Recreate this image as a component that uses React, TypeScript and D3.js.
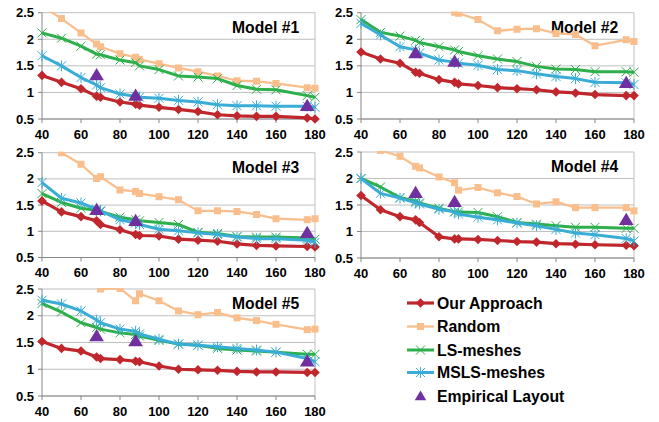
import React from "react";
import * as d3 from "d3";

const xs = [40, 50, 60, 68, 70, 80, 88, 90, 100, 110, 120, 130, 140, 150, 160, 176, 180];
const empX = [68, 88, 176];
const xTicks = [40, 60, 80, 100, 120, 140, 160, 180];
const yTicks = [0.5, 1, 1.5, 2, 2.5];
const yTickLabels = ["0.5", "1", "1.5", "2", "2.5"];
const modelNames = ["Model #1", "Model #2", "Model #3", "Model #4", "Model #5"];
const seriesNames = ["Our Approach", "Random", "LS-meshes", "MSLS-meshes", "Empirical Layout"];

// Model #1
const ours1 = [1.32, 1.19, 1.07, 0.93, 0.91, 0.82, 0.78, 0.76, 0.72, 0.68, 0.64, 0.58, 0.56, 0.55, 0.55, 0.52, 0.5];
const rand1 = [2.62, 2.39, 2.12, 1.91, 1.86, 1.73, 1.66, 1.62, 1.54, 1.46, 1.39, 1.31, 1.22, 1.21, 1.17, 1.09, 1.08];
const ls1 = [2.12, 2.02, 1.87, 1.72, 1.71, 1.61, 1.56, 1.5, 1.43, 1.31, 1.29, 1.26, 1.13, 1.06, 1.05, 0.94, 0.91];
const msls1 = [1.69, 1.5, 1.28, 1.14, 1.09, 0.97, 0.93, 0.91, 0.89, 0.85, 0.82, 0.77, 0.75, 0.75, 0.74, 0.74, 0.72];
const emp1 = [1.33, 0.94, 0.75];

// Model #2
const ours2 = [1.76, 1.63, 1.55, 1.38, 1.36, 1.24, 1.19, 1.16, 1.13, 1.09, 1.07, 1.05, 1.01, 0.99, 0.96, 0.94, 0.94];
const rand2 = [3.2, 3.05, 2.9, 2.8, 2.75, 2.65, 2.51, 2.49, 2.37, 2.16, 2.19, 2.2, 2.11, 2.09, 1.88, 1.99, 1.96];
const ls2 = [2.37, 2.13, 2.06, 1.98, 1.94, 1.86, 1.8, 1.77, 1.69, 1.63, 1.58, 1.49, 1.44, 1.43, 1.39, 1.39, 1.38];
const msls2 = [2.3, 2.08, 1.86, 1.8, 1.74, 1.61, 1.57, 1.55, 1.51, 1.43, 1.41, 1.35, 1.3, 1.26, 1.19, 1.18, 1.15];
const emp2 = [1.74, 1.58, 1.18];

// Model #3
const ours3 = [1.58, 1.37, 1.28, 1.2, 1.13, 1.03, 0.94, 0.92, 0.91, 0.85, 0.83, 0.81, 0.76, 0.73, 0.72, 0.71, 0.7];
const rand3 = [2.9, 2.5, 2.28, 2.01, 2.04, 1.79, 1.76, 1.72, 1.66, 1.6, 1.39, 1.39, 1.38, 1.32, 1.24, 1.22, 1.24];
const ls3 = [1.72, 1.55, 1.44, 1.4, 1.38, 1.27, 1.22, 1.2, 1.17, 1.13, 0.98, 0.96, 0.9, 0.89, 0.89, 0.87, 0.85];
const msls3 = [1.93, 1.63, 1.54, 1.42, 1.39, 1.22, 1.16, 1.13, 1.04, 1.01, 0.97, 0.94, 0.89, 0.86, 0.86, 0.83, 0.79];
const emp3 = [1.41, 1.2, 0.97];

// Model #4
const ours4 = [1.68, 1.41, 1.28, 1.22, 1.17, 0.9, 0.86, 0.86, 0.85, 0.83, 0.81, 0.8, 0.77, 0.76, 0.75, 0.74, 0.73];
const rand4 = [2.75, 2.53, 2.42, 2.23, 2.2, 2.03, 1.92, 1.78, 1.83, 1.73, 1.66, 1.52, 1.56, 1.45, 1.45, 1.45, 1.39];
const ls4 = [2.0, 1.84, 1.64, 1.57, 1.54, 1.44, 1.37, 1.37, 1.36, 1.28, 1.17, 1.14, 1.11, 1.08, 1.08, 1.06, 1.06];
const msls4 = [2.0, 1.72, 1.63, 1.54, 1.52, 1.42, 1.37, 1.33, 1.27, 1.22, 1.16, 1.11, 1.04, 0.97, 0.94, 0.87, 0.82];
const emp4 = [1.73, 1.56, 1.22];

// Model #5
const ours5 = [1.52, 1.39, 1.34, 1.23, 1.2, 1.18, 1.15, 1.14, 1.06, 1.0, 0.99, 0.98, 0.96, 0.95, 0.95, 0.94, 0.94];
const rand5 = [3.3, 3.1, 2.9, 2.7, 2.5, 2.51, 2.28, 2.41, 2.28, 2.09, 2.02, 2.06, 1.96, 1.91, 1.84, 1.74, 1.75];
const ls5 = [2.23, 2.07, 1.87, 1.78, 1.75, 1.68, 1.65, 1.62, 1.54, 1.47, 1.45, 1.39, 1.36, 1.34, 1.32, 1.28, 1.28];
const msls5 = [2.29, 2.22, 2.09, 1.92, 1.87, 1.75, 1.71, 1.66, 1.56, 1.47, 1.45, 1.42, 1.39, 1.36, 1.32, 1.2, 1.14];
const emp5 = [1.62, 1.53, 1.15];

const oursAll = [ours1, ours2, ours3, ours4, ours5];
const randAll = [rand1, rand2, rand3, rand4, rand5];
const lsAll = [ls1, ls2, ls3, ls4, ls5];
const mslsAll = [msls1, msls2, msls3, msls4, msls5];
const empAll = [emp1, emp2, emp3, emp4, emp5];

const RED = "#C0272D";
const ORANGE = "#F9BE8C";
const GREEN = "#2DAF4B";
const BLUE = "#3AADD6";
const PURPLE = "#7030A0";
const FONT = "'Liberation Sans', Arial, sans-serif";

// plot area of each panel: left, top, right, bottom
const boxes = [
  [42, 12.7, 315, 119],
  [361, 12.7, 634, 119],
  [42, 152.7, 315, 257.5],
  [361, 152, 634, 258],
  [42, 289, 315, 396],
];

const diamond = (r: number) => `M0,${-r}L${r},0L0,${r}L${-r},0Z`;
const square = (r: number) => `M${-r},${-r}H${r}V${r}H${-r}Z`;
const xMark = (r: number) => `M${-r},${-r}L${r},${r}M${-r},${r}L${r},${-r}`;
const star = (r: number) => `M${-r},${-r}L${r},${r}M${-r},${r}L${r},${-r}M0,${-r * 1.2}V${r * 1.2}`;
const triangle = (r: number) => `M0,${-r}L${r * 1.05},${r * 0.75}L${-r * 1.05},${r * 0.75}Z`;

const styles = [
  { color: RED, width: 3.2, marker: diamond(4.8), fill: RED, stroke: "none", sw: 0 },
  { color: ORANGE, width: 2.25, marker: square(3.5), fill: ORANGE, stroke: "none", sw: 0 },
  { color: GREEN, width: 3, marker: xMark(4.5), fill: "none", stroke: GREEN, sw: 1 },
  { color: BLUE, width: 3, marker: star(4.5), fill: "none", stroke: BLUE, sw: 1 },
];

const Panel = ({ i }: { i: number }) => {
  const [l, t, r, b] = boxes[i];
  const w = r - l;
  const h = b - t;
  const x = d3.scaleLinear().domain([40, 180]).range([0, w]);
  const y = d3.scaleLinear().domain([0.5, 2.5]).range([h, 0]);
  const line = d3
    .line<number>()
    .x((_, k) => x(xs[k]))
    .y((d) => y(d));
  const series = [oursAll[i], randAll[i], lsAll[i], mslsAll[i]];
  const clipId = `clip${i}`;
  return (
    <g transform={`translate(${l},${t})`}>
      <defs>
        <clipPath id={clipId}>
          <rect x={-6} y={-1} width={w + 12} height={h + 8} />
        </clipPath>
      </defs>
      {yTicks.map((v) => (
        <line key={v} x1={0} x2={w} y1={y(v)} y2={y(v)} stroke="#BFBFBF" strokeWidth={1} />
      ))}
      <line x1={w} x2={w} y1={0} y2={h} stroke="#BFBFBF" strokeWidth={1} />
      <line x1={0} x2={0} y1={0} y2={h} stroke="#868686" strokeWidth={1} />
      <line x1={0} x2={w} y1={h} y2={h} stroke="#868686" strokeWidth={1} />
      {yTicks.map((v) => (
        <line key={v} x1={-4} x2={0} y1={y(v)} y2={y(v)} stroke="#868686" strokeWidth={1} />
      ))}
      {xTicks.map((v) => (
        <line key={v} x1={x(v)} x2={x(v)} y1={h} y2={h + 4} stroke="#868686" strokeWidth={1} />
      ))}
      {yTicks.map((v, k) => (
        <text key={v} x={-8} y={y(v) + 4.6} textAnchor="end" fontFamily={FONT} fontWeight="bold" fontSize={13} fill="#000">
          {yTickLabels[k]}
        </text>
      ))}
      {xTicks.map((v) => (
        <text key={v} x={x(v)} y={h + 20} textAnchor="middle" fontFamily={FONT} fontWeight="bold" fontSize={13} fill="#000">
          {v}
        </text>
      ))}
      <text x={w - 83} y={20} fontFamily={FONT} fontWeight="bold" fontSize={15.7} fill="#000">
        {modelNames[i]}
      </text>
      <g clipPath={`url(#${clipId})`}>
        {series.map((s, k) => (
          <g key={k}>
            <path d={line(s) || ""} fill="none" stroke={styles[k].color} strokeWidth={styles[k].width} strokeLinejoin="round" />
            {s.map((v, j) =>
              v <= 2.53 ? (
                <path
                  key={j}
                  transform={`translate(${x(xs[j])},${y(v)})`}
                  d={styles[k].marker}
                  fill={styles[k].fill}
                  stroke={styles[k].stroke}
                  strokeWidth={styles[k].sw}
                />
              ) : null
            )}
          </g>
        ))}
      </g>
      {empAll[i].map((v, j) => (
        <path key={j} transform={`translate(${x(empX[j])},${y(v)})`} d={triangle(7)} fill={PURPLE} />
      ))}
    </g>
  );
};

const Legend = () => {
  const rowY = [303, 326.5, 350, 372.5, 396];
  return (
    <g>
      {seriesNames.map((name, k) => (
        <g key={name} transform={`translate(0,${rowY[k]})`}>
          {k < 4 ? (
            <>
              <line x1={407} x2={434} y1={0} y2={0} stroke={styles[k].color} strokeWidth={styles[k].width} />
              <path
                transform="translate(420.5,0)"
                d={styles[k].marker}
                fill={styles[k].fill}
                stroke={styles[k].stroke}
                strokeWidth={styles[k].sw}
              />
            </>
          ) : (
            <path transform="translate(420.5,0)" d={triangle(5.5)} fill={PURPLE} />
          )}
          <text x={437} y={5.5} fontFamily={FONT} fontWeight="bold" fontSize={15.8} fill="#000">
            {name}
          </text>
        </g>
      ))}
    </g>
  );
}

export default function App() {
  return (
    <svg width={659} height={422} style={{ position: "absolute", left: 0, top: 0, background: "#fff" }}>
      <rect width={659} height={422} fill="#fff" />
      {boxes.map((_, i) => (
        <Panel key={i} i={i} />
      ))}
      <Legend />
    </svg>
  );
}
